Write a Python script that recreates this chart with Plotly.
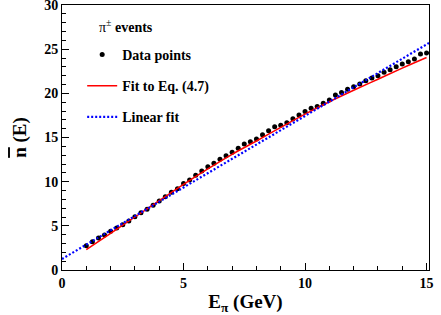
import plotly.graph_objects as go

# Data points: pion energy (GeV) and mean multiplicity
energy = [1.00, 1.25, 1.50, 1.75, 2.00, 2.25, 2.50, 2.75, 3.00, 3.25, 3.50, 3.75,
          4.00, 4.25, 4.50, 4.75, 5.00, 5.25, 5.50, 5.75, 6.00, 6.25, 6.50, 6.75,
          7.00, 7.25, 7.50, 7.75, 8.00, 8.25, 8.50, 8.75, 9.00, 9.25, 9.50, 9.75,
          10.00, 10.25, 10.50, 10.75, 11.00, 11.25, 11.50, 11.75, 12.00, 12.25,
          12.50, 12.75, 13.00, 13.25, 13.50, 13.75, 14.00, 14.25, 14.50, 14.75, 15.00]
n_mean = [2.75, 3.20, 3.62, 3.96, 4.38, 4.76, 5.12, 5.55, 6.04, 6.49, 6.87, 7.32,
          7.81, 8.30, 8.80, 9.20, 9.78, 10.19, 10.72, 11.20, 11.70, 12.08, 12.53, 12.94,
          13.32, 13.77, 14.26, 14.53, 14.83, 15.32, 15.77, 16.22, 16.40, 16.68, 17.13, 17.55,
          17.95, 18.30, 18.50, 18.87, 19.25, 19.80, 20.10, 20.45, 20.75, 21.06,
          21.43, 21.74, 22.00, 22.38, 22.68, 23.02, 23.32, 23.58, 23.89, 24.45, 24.57]

# Fit to Eq. (4.7)
fit_e = [1, 2, 3, 4, 5, 6, 7, 8, 9, 10, 11, 12, 13, 14, 15]
fit_n = [2.30, 4.15, 6.00, 7.85, 9.70, 11.45, 13.10, 14.60, 16.15, 17.65, 19.05,
         20.35, 21.60, 22.85, 24.05]

# Linear fit, values read at the ends of the line
lin_e = [0.0, 15.1]
lin_n = [1.25, 25.70]

FONT = "Liberation Serif, Times New Roman, serif"

fig = go.Figure()
fig.add_trace(go.Scatter(
    x=energy, y=n_mean, mode="markers", name="Data points",
    marker=dict(color="black", size=5), legendgroup="a"))
fig.add_trace(go.Scatter(
    x=fit_e, y=fit_n, mode="lines", name="Fit to Eq. (4.7)",
    line=dict(color="#ff0000", width=1.5, shape="spline"), legendgroup="b"))
fig.add_trace(go.Scatter(
    x=lin_e, y=lin_n, mode="lines", name="Linear fit",
    line=dict(color="#0000ff", width=2.2, dash="2px,2px"), legendgroup="c"))

axis_common = dict(
    showgrid=False, zeroline=False, showline=True, linecolor="black", linewidth=1,
    mirror=True, ticks="inside", ticklen=7, tickwidth=1, tickcolor="black",
    dtick=5, tick0=0, automargin=False, ticklabeloverflow="allow",
    minor=dict(ticks="inside", ticklen=4, dtick=1, tickcolor="black", tickwidth=1),
    tickfont=dict(family=FONT, size=14, color="black", weight="bold"),
)

fig.update_layout(
    width=441, height=315,
    margin=dict(l=62, r=12, t=5, b=45),
    paper_bgcolor="white", plot_bgcolor="white",
    font=dict(family=FONT, color="black"),
    xaxis=dict(range=[0, 15.1], **axis_common,
               title=dict(text="E<sub>π</sub> (GeV)",
                          font=dict(family=FONT, size=19, weight="bold"), standoff=4)),
    yaxis=dict(range=[0, 30], **axis_common,
               title=dict(text='<span style="text-decoration:overline">n</span> (E)',
                          font=dict(family=FONT, size=19, weight="bold"), standoff=12)),
    legend=dict(
        x=0.055, y=0.872, xanchor="left", yanchor="top",
        bgcolor="rgba(0,0,0,0)", borderwidth=0,
        font=dict(family=FONT, size=14, color="black", weight="bold"),
        tracegroupgap=10, traceorder="grouped",
        itemwidth=30,
    ),
    annotations=[dict(
        text="π<sup>±</sup> <b>events</b>", xref="paper", yref="paper",
        x=0.095, y=0.92, xanchor="left", yanchor="middle", showarrow=False,
        font=dict(family=FONT, size=14, color="black"))],
    showlegend=True,
)

fig.write_html("out.html",
               config={"displayModeBar": False},
               post_script="document.body.style.margin='0px';")
